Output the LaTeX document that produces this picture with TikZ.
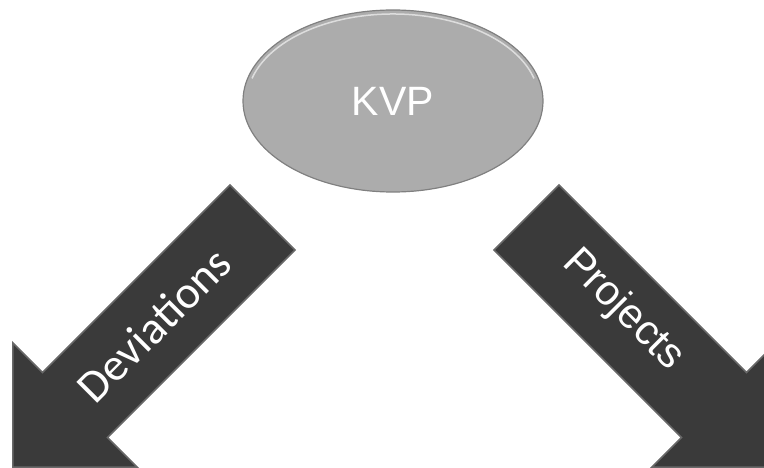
\documentclass[tikz,border=0pt]{standalone}
\usepackage{fontspec}
\setmainfont{Liberation Sans}
\newfontfamily\calibri{Carlito}
\usetikzlibrary{shapes.geometric}

\definecolor{kvpgray}{RGB}{172,172,172}
\definecolor{kvpedge}{RGB}{128,128,128}
\definecolor{arrowgray}{RGB}{58,58,58}
\definecolor{arrowedge}{RGB}{105,105,105}

\begin{document}
\begin{tikzpicture}[x=1pt,y=-1pt,
        hub/.style={ellipse,fill=kvpgray,draw=kvpedge,line width=1.2pt,
            minimum width=300pt,minimum height=182pt,inner sep=0pt,
            text=white,font=\fontsize{41}{41}\selectfont},
        block arrow/.style={fill=arrowgray,draw=arrowedge,line width=1.5pt,line join=miter},
        arrow text/.style={text=white,inner sep=0pt}]
        \useasboundingbox (0,0) rectangle (764,468);
        \clip (0,0) rectangle (764,468);
        \node[hub] (kvp) at (393,101) {KVP};
        % top highlight of the ellipse
        \draw[white,opacity=0.6,line width=1.5pt] (kvp.center) ++(-165:146 and 87)
            arc[start angle=-165,end angle=-15,x radius=146,y radius=87];
        % left arrow
        \path[block arrow] (230,185) -- (295,250) -- (107.5,437.5) -- (137.2,467.2)
            -- (12.8,467.2) -- (12.8,342.8) -- (42.5,372.5) -- cycle;
        % right arrow
        \path[block arrow] (559,185) -- (494,250) -- (681.5,437.5) -- (651.8,467.2)
            -- (776.2,467.2) -- (776.2,342.8) -- (746.5,372.5) -- cycle;
        \node[arrow text, rotate=45, font=\calibri\fontsize{46}{46}\selectfont] (deviations) at (154,325) {Deviations};
        \node[arrow text, rotate=-45, font=\fontsize{42}{42}\selectfont] (projects) at (623,310) {Projects};
\end{tikzpicture}
\end{document}
